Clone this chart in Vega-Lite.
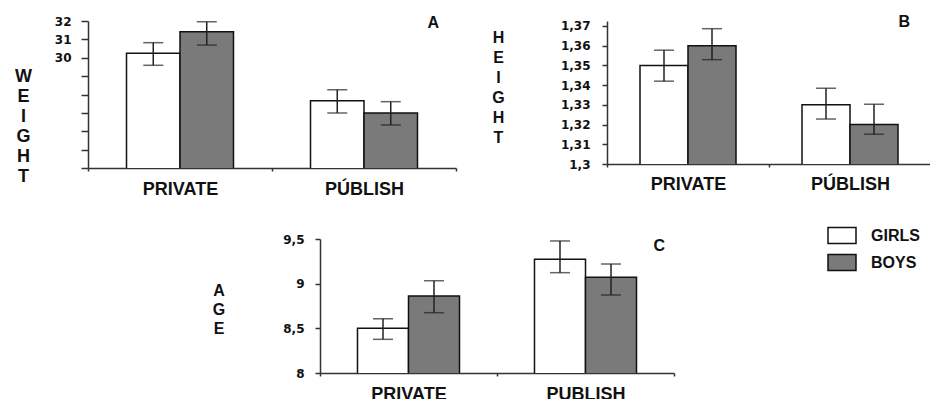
{
  "$schema": "https://vega.github.io/schema/vega-lite/v6.json",
  "background": "white",
  "padding": {"left": 14, "top": 13, "right": 0, "bottom": 0},
  "spacing": 22,
  "resolve": {"scale": {"fill": "independent", "xOffset": "independent", "x": "independent", "y": "independent"}},
  "datasets": {
    "weight": [
      {"school": "PRIVATE", "sex": "GIRLS", "mean": 30.24, "lo": 29.59, "hi": 30.82},
      {"school": "PRIVATE", "sex": "BOYS", "mean": 31.42, "lo": 30.69, "hi": 31.96},
      {"school": "PÚBLISH", "sex": "GIRLS", "mean": 27.66, "lo": 26.99, "hi": 28.26},
      {"school": "PÚBLISH", "sex": "BOYS", "mean": 26.99, "lo": 26.34, "hi": 27.61}
    ],
    "height": [
      {"school": "PRIVATE", "sex": "GIRLS", "mean": 1.350, "lo": 1.342, "hi": 1.3577},
      {"school": "PRIVATE", "sex": "BOYS", "mean": 1.360, "lo": 1.3529, "hi": 1.3686},
      {"school": "PÚBLISH", "sex": "GIRLS", "mean": 1.330, "lo": 1.3228, "hi": 1.3384},
      {"school": "PÚBLISH", "sex": "BOYS", "mean": 1.320, "lo": 1.3151, "hi": 1.3303}
    ],
    "age": [
      {"school": "PRIVATE", "sex": "GIRLS", "mean": 8.50, "lo": 8.377, "hi": 8.607},
      {"school": "PRIVATE", "sex": "BOYS", "mean": 8.862, "lo": 8.675, "hi": 9.033},
      {"school": "PUBLISH", "sex": "GIRLS", "mean": 9.273, "lo": 9.123, "hi": 9.478},
      {"school": "PUBLISH", "sex": "BOYS", "mean": 9.071, "lo": 8.873, "hi": 9.22}
    ]
  },
  "vconcat": [
    {
      "bounds": "flush",
      "spacing": 151,
      "resolve": {"scale": {"fill": "independent", "xOffset": "independent"}},
      "hconcat": [
        {
          "width": 368,
          "height": 147,
          "title": {"text": "A", "anchor": "end", "frame": "group", "dx": -17, "dy": 24, "offset": 0, "baseline": "middle"},
          "data": {"name": "weight"},
          "encoding": {
            "x": {"field": "school", "type": "nominal", "sort": null, "scale": {"paddingInner": 0, "paddingOuter": 0},
              "axis": {"title": null, "labelPadding": 9}},
            "xOffset": {"field": "sex", "sort": ["GIRLS", "BOYS"], "scale": {"paddingInner": 0, "paddingOuter": 0.72}}
          },
          "layer": [
            {
              "mark": {"type": "bar", "stroke": "#111", "strokeWidth": 1.5, "clip": true},
              "encoding": {
                "y": {"field": "mean", "type": "quantitative", "scale": {"domain": [24, 32], "nice": false, "zero": false},
                  "axis": {"values": [24, 25, 26, 27, 28, 29, 30, 31, 32], "title": ["W", "E", "I", "G", "H", "T"],
                    "titleX": -65, "titleY": 46, "titleFontSize": 18, "titleLineHeight": 20,
                    "labelExpr": "datum.value >= 30 ? datum.label : ''", "tickSize": 7, "labelPadding": 10}},
                "fill": {"field": "sex", "scale": {"domain": ["GIRLS", "BOYS"], "range": ["#ffffff", "#7a7a7a"]}, "legend": null}
              }
            },
            {
              "mark": {"type": "rule", "color": "#222", "strokeWidth": 1.5},
              "encoding": {
                "y": {"field": "lo", "type": "quantitative",
                  "axis": {"values": [24, 25, 26, 27, 28, 29, 30, 31, 32], "title": ["W", "E", "I", "G", "H", "T"],
                    "titleX": -65, "titleY": 46, "titleFontSize": 18, "titleLineHeight": 20,
                    "labelExpr": "datum.value >= 30 ? datum.label : ''", "tickSize": 7, "labelPadding": 10}},
                "y2": {"field": "hi"}
              }
            },
            {
              "mark": {"type": "tick", "color": "#222", "thickness": 1.5, "size": 20},
              "encoding": {
                "y": {"field": "lo", "type": "quantitative",
                  "axis": {"values": [24, 25, 26, 27, 28, 29, 30, 31, 32], "title": ["W", "E", "I", "G", "H", "T"],
                    "titleX": -65, "titleY": 46, "titleFontSize": 18, "titleLineHeight": 20,
                    "labelExpr": "datum.value >= 30 ? datum.label : ''", "tickSize": 7, "labelPadding": 10}}
              }
            },
            {
              "mark": {"type": "tick", "color": "#222", "thickness": 1.5, "size": 20},
              "encoding": {
                "y": {"field": "hi", "type": "quantitative",
                  "axis": {"values": [24, 25, 26, 27, 28, 29, 30, 31, 32], "title": ["W", "E", "I", "G", "H", "T"],
                    "titleX": -65, "titleY": 46, "titleFontSize": 18, "titleLineHeight": 20,
                    "labelExpr": "datum.value >= 30 ? datum.label : ''", "tickSize": 7, "labelPadding": 10}}
              }
            }
          ]
        },
        {
          "width": 324,
          "height": 143,
          "title": {"text": "B", "anchor": "end", "frame": "group", "dx": -21, "dy": 18, "offset": 0, "baseline": "middle"},
          "data": {"name": "height"},
          "encoding": {
            "x": {"field": "school", "type": "nominal", "sort": null, "scale": {"paddingInner": 0, "paddingOuter": 0},
              "axis": {"title": null, "labelPadding": 8}},
            "xOffset": {"field": "sex", "sort": ["GIRLS", "BOYS"], "scale": {"paddingInner": 0, "paddingOuter": 0.6875}}
          },
          "layer": [
            {
              "mark": {"type": "bar", "stroke": "#111", "strokeWidth": 1.5, "clip": true},
              "encoding": {
                "y": {"field": "mean", "type": "quantitative", "scale": {"domain": [1.3, 1.3725], "nice": false, "zero": false},
                  "axis": {"values": [1.3, 1.31, 1.32, 1.33, 1.34, 1.35, 1.36, 1.37], "title": ["H", "E", "I", "G", "H", "T"],
                    "titleX": -109, "titleY": 8, "titleFontSize": 16, "titleLineHeight": 20,
                    "labelExpr": "replace(toString(datum.value), '.', ',')", "tickSize": 5, "labelPadding": 12}},
                "fill": {"field": "sex", "scale": {"domain": ["GIRLS", "BOYS"], "range": ["#ffffff", "#7a7a7a"]}, "legend": null}
              }
            },
            {
              "mark": {"type": "rule", "color": "#222", "strokeWidth": 1.5},
              "encoding": {
                "y": {"field": "lo", "type": "quantitative",
                  "axis": {"values": [1.3, 1.31, 1.32, 1.33, 1.34, 1.35, 1.36, 1.37], "title": ["H", "E", "I", "G", "H", "T"],
                    "titleX": -109, "titleY": 8, "titleFontSize": 16, "titleLineHeight": 20,
                    "labelExpr": "replace(toString(datum.value), '.', ',')", "tickSize": 5, "labelPadding": 12}},
                "y2": {"field": "hi"}
              }
            },
            {
              "mark": {"type": "tick", "color": "#222", "thickness": 1.5, "size": 20},
              "encoding": {
                "y": {"field": "lo", "type": "quantitative",
                  "axis": {"values": [1.3, 1.31, 1.32, 1.33, 1.34, 1.35, 1.36, 1.37], "title": ["H", "E", "I", "G", "H", "T"],
                    "titleX": -109, "titleY": 8, "titleFontSize": 16, "titleLineHeight": 20,
                    "labelExpr": "replace(toString(datum.value), '.', ',')", "tickSize": 5, "labelPadding": 12}}
              }
            },
            {
              "mark": {"type": "tick", "color": "#222", "thickness": 1.5, "size": 20},
              "encoding": {
                "y": {"field": "hi", "type": "quantitative",
                  "axis": {"values": [1.3, 1.31, 1.32, 1.33, 1.34, 1.35, 1.36, 1.37], "title": ["H", "E", "I", "G", "H", "T"],
                    "titleX": -109, "titleY": 8, "titleFontSize": 16, "titleLineHeight": 20,
                    "labelExpr": "replace(toString(datum.value), '.', ',')", "tickSize": 5, "labelPadding": 12}}
              }
            }
          ]
        }
      ]
    },
    {
      "bounds": "flush",
      "spacing": 231,
      "resolve": {"scale": {"fill": "independent", "xOffset": "independent"}},
      "hconcat": [
        {
          "width": 1,
          "height": 1,
          "data": {"values": [{"a": 1}]},
          "mark": {"type": "point", "opacity": 0},
          "encoding": {}
        },
        {
          "width": 354,
          "height": 134,
          "title": {"text": "C", "anchor": "end", "frame": "group", "dx": -9, "dy": 41, "offset": 0, "baseline": "middle"},
          "data": {"name": "age"},
          "encoding": {
            "x": {"field": "school", "type": "nominal", "sort": null, "scale": {"paddingInner": 0, "paddingOuter": 0},
              "axis": {"title": null, "labelPadding": 9}},
            "xOffset": {"field": "sex", "sort": ["GIRLS", "BOYS"], "scale": {"paddingInner": 0, "paddingOuter": 0.735}}
          },
          "layer": [
            {
              "mark": {"type": "bar", "stroke": "#111", "strokeWidth": 1.5, "clip": true},
              "encoding": {
                "y": {"field": "mean", "type": "quantitative", "scale": {"domain": [8, 9.5], "nice": false, "zero": false},
                  "axis": {"values": [8, 8.5, 9, 9.5], "title": ["A", "G", "E"],
                    "titleX": -101.5, "titleY": 43, "titleFontSize": 16, "titleLineHeight": 19,
                    "labelExpr": "replace(toString(datum.value), '.', ',')", "tickSize": 5, "labelPadding": 11}},
                "fill": {"field": "sex", "title": null, "scale": {"domain": ["GIRLS", "BOYS"], "range": ["#ffffff", "#7a7a7a"]},
                  "legend": {"orient": "none", "legendX": 507, "legendY": -18.5, "title": null,
                    "symbolType": "M-1,-0.57H1V0.57H-1Z", "symbolSize": 784, "symbolStrokeColor": "#111", "symbolStrokeWidth": 1.5,
                    "labelFont": "Liberation Sans", "labelFontWeight": "bold", "labelFontSize": 16, "labelColor": "#111",
                    "labelOffset": 14, "rowPadding": 1, "padding": 0}}
              }
            },
            {
              "mark": {"type": "rule", "color": "#222", "strokeWidth": 1.5},
              "encoding": {
                "y": {"field": "lo", "type": "quantitative",
                  "axis": {"values": [8, 8.5, 9, 9.5], "title": ["A", "G", "E"],
                    "titleX": -101.5, "titleY": 43, "titleFontSize": 16, "titleLineHeight": 19,
                    "labelExpr": "replace(toString(datum.value), '.', ',')", "tickSize": 5, "labelPadding": 11}},
                "y2": {"field": "hi"}
              }
            },
            {
              "mark": {"type": "tick", "color": "#222", "thickness": 1.5, "size": 20},
              "encoding": {
                "y": {"field": "lo", "type": "quantitative",
                  "axis": {"values": [8, 8.5, 9, 9.5], "title": ["A", "G", "E"],
                    "titleX": -101.5, "titleY": 43, "titleFontSize": 16, "titleLineHeight": 19,
                    "labelExpr": "replace(toString(datum.value), '.', ',')", "tickSize": 5, "labelPadding": 11}}
              }
            },
            {
              "mark": {"type": "tick", "color": "#222", "thickness": 1.5, "size": 20},
              "encoding": {
                "y": {"field": "hi", "type": "quantitative",
                  "axis": {"values": [8, 8.5, 9, 9.5], "title": ["A", "G", "E"],
                    "titleX": -101.5, "titleY": 43, "titleFontSize": 16, "titleLineHeight": 19,
                    "labelExpr": "replace(toString(datum.value), '.', ',')", "tickSize": 5, "labelPadding": 11}}
              }
            }
          ]
        }
      ]
    }
  ],
  "config": {
    "view": {"stroke": null},
    "title": {"font": "Liberation Sans", "fontSize": 16, "fontWeight": "bold", "color": "#111"},
    "axis": {
      "grid": false,
      "domainColor": "#333",
      "domainWidth": 1.5,
      "tickColor": "#333",
      "tickWidth": 1.5,
      "labelColor": "#111",
      "titleColor": "#111",
      "titleFont": "Liberation Sans",
      "titleFontWeight": "bold",
      "titleAngle": 0,
      "titleAlign": "center",
      "titleBaseline": "top"
    },
    "axisY": {
      "labelFont": "DejaVu Sans",
      "labelFontWeight": "bold",
      "labelFontSize": 12
    },
    "axisX": {
      "labelAngle": 0,
      "tickBand": "extent",
      "tickSize": 3,
      "labelFont": "Liberation Sans",
      "labelFontWeight": "bold",
      "labelFontSize": 18
    }
  }
}
